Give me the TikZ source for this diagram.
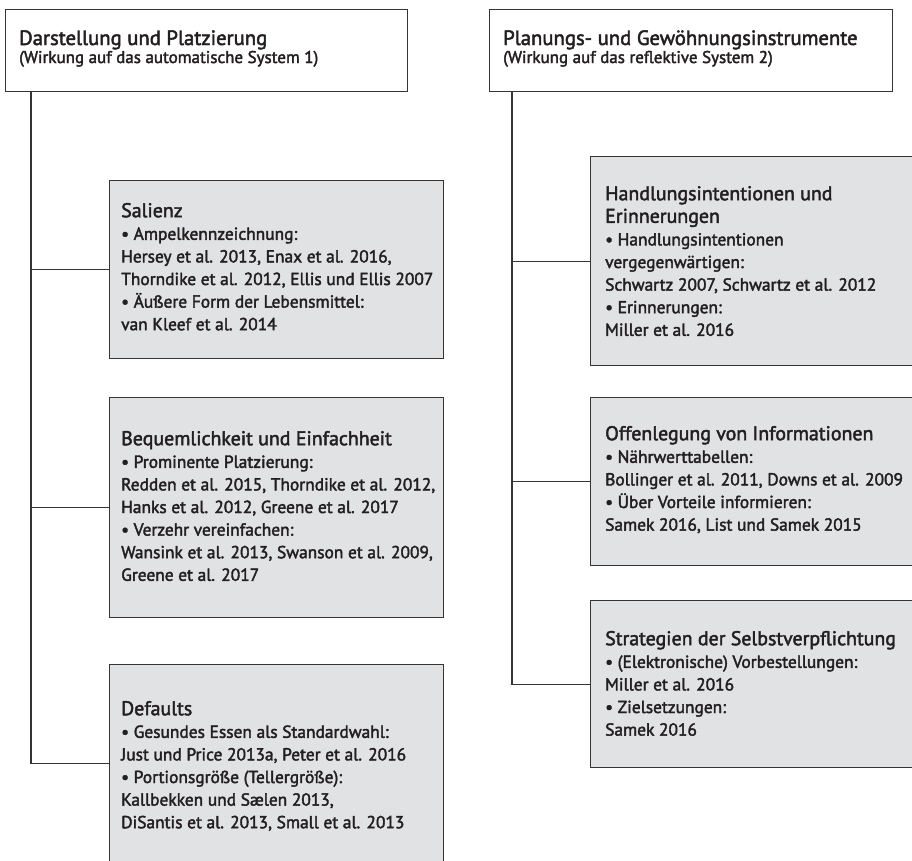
\documentclass[tikz,border=0pt]{standalone}
\usepackage{fontspec}
\setmainfont{PT Sans}[FakeBold=2.2]
\definecolor{linegray}{HTML}{353535}
\definecolor{boxgray}{HTML}{E1E2E4}
\definecolor{textgray}{HTML}{231F20}
\newcommand\headtitle{\fontsize{20.7}{26}\selectfont}
\newcommand\headsub{\fontsize{17}{20}\selectfont}
\newcommand\bodyfont{\fontsize{17.4}{22.6}\selectfont}
\newcommand\boxhead{\fontsize{19.9}{22.6}\selectfont}
% fixed first-line height, so a text's first baseline sits 17pt below its top
\newcommand\firstline{\rule{0pt}{17pt}}
\tikzset{
  headbox/.style={draw=linegray, line width=1.4pt, fill=white, anchor=north west,
    minimum width=402, minimum height=82, inner sep=0pt},
  itembox/.style={draw=linegray, line width=1.4pt, fill=boxgray, anchor=north west,
    minimum width=334, inner sep=0pt},
  headtext/.style={anchor=base west, inner sep=0pt, text=textgray},
  boxtext/.style={anchor=north west, align=left, inner sep=0pt, text=textgray, font=\bodyfont},
  branch/.style={draw=linegray, line width=1.4pt}
}
\begin{document}
\begin{tikzpicture}[x=1pt, y=-1pt]
  \useasboundingbox[clip] (0,0) rectangle (912,860);
  % header boxes
  \node[headbox] (auto) at (5,9) {};
  \node[headbox, minimum width=403] (refl) at (489,9) {};
  \node[headtext, font=\headtitle] (auto-title) at (19,45) {Darstellung und Platzierung};
  \node[headtext, font=\headsub] (auto-sub) at (19,63) {(Wirkung auf das automatische System 1)};
  \node[headtext, font=\headtitle] (refl-title) at (503,45) {Planungs- und Gewöhnungsinstrumente};
  \node[headtext, font=\headsub] (refl-sub) at (503,63) {(Wirkung auf das reflektive System 2)};
  % system 1 boxes (text tops are baseline - 17)
  \node[itembox, minimum height=178] (salienz) at (109,180) {};
  \node[itembox, minimum height=220] (bequem) at (109,397) {};
  \node[itembox, minimum height=198] (defaults) at (109,664) {};
  \node[boxtext] (salienz-text) at (121,200) {\firstline{\boxhead Salienz}\\
    \textbullet\ Ampelkennzeichnung:\\
    Hersey et al. 2013, Enax et al. 2016,\\
    Thorndike et al. 2012, Ellis und Ellis 2007\\
    \textbullet\ Äußere Form der Lebensmittel:\\
    van Kleef et al. 2014};
  \node[boxtext] (bequem-text) at (121,428) {\firstline{\boxhead Bequemlichkeit und Einfachheit}\\
    \textbullet\ Prominente Platzierung:\\
    Redden et al. 2015, Thorndike et al. 2012,\\
    Hanks et al. 2012, Greene et al. 2017\\
    \textbullet\ Verzehr vereinfachen:\\
    Wansink et al. 2013, Swanson et al. 2009,\\
    Greene et al. 2017};
  \node[boxtext] (defaults-text) at (121,698) {\firstline{\boxhead Defaults}\\
    \textbullet\ Gesundes Essen als Standardwahl:\\
    Just und Price 2013a, Peter et al. 2016\\
    \textbullet\ Portionsgröße (Tellergröße):\\
    Kallbekken und Sælen 2013,\\
    DiSantis et al. 2013, Small et al. 2013};
  % system 2 boxes
  \node[itembox, minimum height=209] (intent) at (590,156) {};
  \node[itembox, minimum height=168] (inform) at (590,397) {};
  \node[itembox, minimum height=167] (commit) at (590,600) {};
  \node[boxtext] (intent-text) at (605,183) {\firstline{\boxhead Handlungsintentionen und}\\
    {\boxhead Erinnerungen}\\
    \textbullet\ Handlungsintentionen\\
    vergegenwärtigen:\\
    Schwartz 2007, Schwartz et al. 2012\\
    \textbullet\ Erinnerungen:\\
    Miller et al. 2016};
  \node[boxtext] (inform-text) at (605,423) {\firstline{\boxhead Offenlegung von Informationen}\\
    \textbullet\ Nährwerttabellen:\\
    Bollinger et al. 2011, Downs et al. 2009\\
    \textbullet\ Über Vorteile informieren:\\
    Samek 2016, List und Samek 2015};
  \node[boxtext] (commit-text) at (605,628) {\firstline{\boxhead Strategien der Selbstverpflichtung}\\
    \textbullet\ (Elektronische) Vorbestellungen:\\
    Miller et al. 2016\\
    \textbullet\ Zielsetzungen:\\
    Samek 2016};
  % branches
  \coordinate (auto-root) at (31,91);
  \coordinate (refl-root) at (512,91);
  \draw[branch] (auto-root) |- (salienz.west);
  \draw[branch] (auto-root) |- (bequem.west);
  \draw[branch] (auto-root) |- (defaults.west);
  \draw[branch] (refl-root) |- (intent.west);
  \draw[branch] (refl-root) |- (inform.west);
  \draw[branch] (refl-root) |- (commit.west);
\end{tikzpicture}
\end{document}
